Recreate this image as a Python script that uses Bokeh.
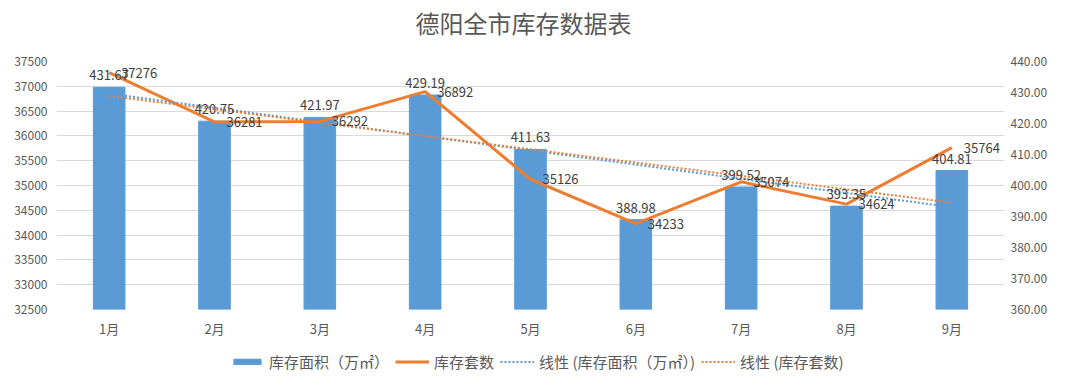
import numpy as np
from bokeh.plotting import figure
from bokeh.layouts import column
from bokeh.core.properties import value
from bokeh.models import (Range1d, LinearAxis, FactorRange, ColumnDataSource, Legend,
                          LegendItem, NumeralTickFormatter, FixedTicker, LabelSet, Label)
from bokeh.embed import file_html
from bokeh.resources import INLINE

title_text = "德阳全市库存数据表"
months = ["1月", "2月", "3月", "4月", "5月", "6月", "7月", "8月", "9月"]
area = [431.67, 420.75, 421.97, 429.19, 411.63, 388.98, 399.52, 393.35, 404.81]   # 库存面积（万㎡）
count = [37276, 36281, 36292, 36892, 35126, 34233, 35074, 34624, 35764]          # 库存套数
left_ticks = list(range(32500, 37501, 500))
right_ticks = list(range(360, 441, 10))
series_names = ["库存面积（万㎡）", "库存套数", "线性 (库存面积（万㎡）)", "线性 (库存套数)"]

FONT = "Noto Sans CJK SC"
GRAY = "#595959"
BLUE = "#5B9BD5"
ORANGE = "#ED7D31"

idx = np.arange(len(months))
area_fit = np.polyval(np.polyfit(idx, area, 1), idx)
count_fit = np.polyval(np.polyfit(idx, count, 1), idx)

src = ColumnDataSource(dict(
    month=months, area=area, count=count,
    area_fit=list(area_fit), count_fit=list(count_fit),
    area_lbl=[f"{v:.2f}" for v in area],
    count_lbl=[str(v) for v in count],
))

W, H_TITLE, H_MAIN, H_LEG = 1080, 50, 290, 48

# ---- title strip ----
tf = figure(width=W, height=H_TITLE, output_backend="svg", toolbar_location=None,
            x_axis_type=None, y_axis_type=None, x_range=Range1d(0, W), y_range=Range1d(0, H_TITLE),
            min_border=0)
tf.outline_line_color = None
tf.grid.grid_line_color = None
tf.add_layout(Label(x=532, y=28, text=title_text, text_align="center",
                    text_baseline="middle", text_font=FONT, text_font_size="24px",
                    text_color=GRAY))

# ---- main chart ----
p = figure(width=W, height=H_MAIN, output_backend="svg", toolbar_location=None,
           x_range=FactorRange(*months), y_range=Range1d(32500, 37500),
           min_border_left=56, min_border_right=76, min_border_top=11, min_border_bottom=29)
p.extra_y_ranges = {"right": Range1d(360, 440)}

p.outline_line_color = None
p.xgrid.grid_line_color = None
p.ygrid.grid_line_color = "#D9D9D9"
p.ygrid.ticker = FixedTicker(ticks=left_ticks)

bars = p.vbar(x="month", top="area", bottom=360, width=0.3, source=src,
              color=BLUE, y_range_name="right")
line = p.line(x="month", y="count", source=src, color=ORANGE, line_width=3)
t_area = p.line(x="month", y="area_fit", source=src, color=BLUE, line_width=2,
                line_dash="2 2", y_range_name="right")
t_count = p.line(x="month", y="count_fit", source=src, color=ORANGE, line_width=2,
                 line_dash="2 2")

ya = p.yaxis[0]
ya.ticker = FixedTicker(ticks=left_ticks)
ya.axis_line_color = None
ya.major_tick_line_color = None
ya.minor_tick_line_color = None
ya.major_tick_out = 0
ya.major_label_standoff = 9
ya.major_label_text_font = FONT
ya.major_label_text_font_size = "12px"
ya.major_label_text_color = GRAY

ra = LinearAxis(y_range_name="right", ticker=FixedTicker(ticks=right_ticks),
                formatter=NumeralTickFormatter(format="0.00"))
ra.axis_line_color = None
ra.major_tick_line_color = None
ra.minor_tick_line_color = None
ra.major_tick_out = 0
ra.major_label_standoff = 6
ra.major_label_text_font = FONT
ra.major_label_text_font_size = "12px"
ra.major_label_text_color = GRAY
p.add_layout(ra, "right")

xa = p.xaxis[0]
xa.axis_line_color = None
xa.major_tick_line_color = None
xa.major_tick_out = 0
xa.major_label_standoff = 9
xa.major_label_text_font = FONT
xa.major_label_text_font_size = "13px"
xa.major_label_text_color = GRAY

p.add_layout(LabelSet(x="month", y="area", text="area_lbl", source=src, y_range_name="right",
                      y_offset=7, text_align="center", text_baseline="bottom",
                      text_font=value(FONT), text_font_size="13px", text_color="#404040"))
p.add_layout(LabelSet(x="month", y="count", text="count_lbl", source=src,
                      x_offset=12, text_align="left", text_baseline="middle",
                      text_font=value(FONT), text_font_size="13px", text_color="#404040"))

# ---- legend strip (proxy glyphs sit outside the strip's visible range) ----
lf = figure(width=W, height=H_LEG, output_backend="svg", toolbar_location=None,
            x_axis_type=None, y_axis_type=None, x_range=Range1d(0, 1), y_range=Range1d(0, 1),
            min_border=0)
lf.outline_line_color = None
lf.grid.grid_line_color = None
lb = lf.vbar(x=[-10], top=[-5], bottom=[-6], width=0.3, color=BLUE)
ll = lf.line(x=[-10, -9], y=[-10, -10], color=ORANGE, line_width=3)
lt1 = lf.line(x=[-10, -9], y=[-10, -10], color=BLUE, line_width=2, line_dash="2 2")
lt2 = lf.line(x=[-10, -9], y=[-10, -10], color=ORANGE, line_width=2, line_dash="2 2")
legend = Legend(items=[LegendItem(label=n, renderers=[r])
                       for n, r in zip(series_names, [lb, ll, lt1, lt2])],
                orientation="horizontal", location=(174, 16),
                label_text_font=FONT, label_text_font_size="15px", label_text_color=GRAY,
                glyph_width=34, glyph_height=7, spacing=6, label_standoff=5,
                border_line_color=None, background_fill_alpha=0, padding=0, margin=0)
lf.add_layout(legend, "center")

layout = column(tf, p, lf, spacing=0)
open("out.html", "w").write(file_html(layout, INLINE))
